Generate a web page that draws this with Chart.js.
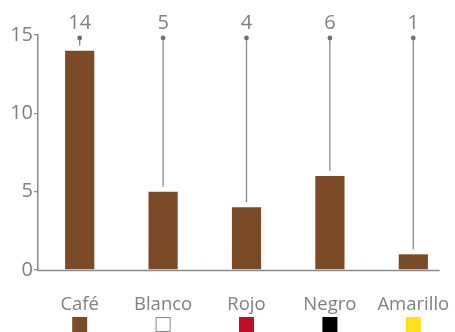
<!DOCTYPE html>
<html>
<head>
<meta charset="utf-8">
<script src="https://cdn.jsdelivr.net/npm/chart.js@4.4.1/dist/chart.umd.min.js"></script>
<style>
  html, body { margin: 0; padding: 0; background: #ffffff; }
  #wrap { width: 455px; height: 332px; position: relative; }
</style>
</head>
<body>
<div id="wrap"><canvas id="c" width="455" height="332"></canvas></div>
<script>
const categories = ['Café', 'Blanco', 'Rojo', 'Negro', 'Amarillo'];
const values = [14, 5, 4, 6, 1];
const swatchColors = ['#7b4b27', '#ffffff', '#c00d2a', '#000000', '#ffe01a'];
const yTicks = [0, 5, 10, 15];

const TEXT = '#808080';
const LINE = '#8a8a8a';
const FONT = "'Open Sans', 'Noto Sans', sans-serif";

const decorPlugin = {
  id: 'decor',
  afterDatasetsDraw(chart) {
    const ctx = chart.ctx;
    const area = chart.chartArea;
    const meta = chart.getDatasetMeta(0);
    const xs = chart.scales.x;
    ctx.save();
    // baseline
    const last = meta.data[meta.data.length - 1];
    ctx.strokeStyle = LINE;
    ctx.lineWidth = 1.5;
    ctx.beginPath();
    ctx.moveTo(area.left - 1, area.bottom + 0.5);
    ctx.lineTo(last.x + last.width * 0.9, area.bottom + 0.5);
    ctx.stroke();
    // leader lines, dots and value labels
    meta.data.forEach((bar, i) => {
      const topY = area.top + 3;
      ctx.strokeStyle = LINE;
      ctx.lineWidth = 1.3;
      ctx.beginPath();
      ctx.moveTo(bar.x, topY);
      ctx.lineTo(bar.x, bar.y - 5);
      ctx.stroke();
      ctx.fillStyle = '#707070';
      ctx.beginPath();
      ctx.arc(bar.x, topY, 2.4, 0, Math.PI * 2);
      ctx.fill();
      ctx.fillStyle = TEXT;
      ctx.font = '20px ' + FONT;
      ctx.textAlign = 'center';
      ctx.textBaseline = 'middle';
      ctx.fillText(String(values[i]), bar.x, area.top - 12);
    });
    // legend swatches under category labels
    categories.forEach((c, i) => {
      const cx = xs.getPixelForTick(i);
      const s = 15;
      ctx.fillStyle = swatchColors[i];
      ctx.fillRect(cx - s / 2, 317, s, s);
      if (swatchColors[i] === '#ffffff') {
        ctx.strokeStyle = '#888888';
        ctx.lineWidth = 1;
        ctx.strokeRect(cx - s / 2 + 0.5, 317.5, s - 1, s - 1);
      }
    });
    ctx.restore();
  }
};

new Chart(document.getElementById('c'), {
  type: 'bar',
  data: {
    labels: categories,
    datasets: [{
      data: values,
      backgroundColor: '#7b4b27',
      barPercentage: 0.35,
      categoryPercentage: 1.0
    }]
  },
  options: {
    responsive: false,
    animation: false,
    layout: { padding: { top: 35, right: 0, left: 0, bottom: 0 }, autoPadding: false },
    plugins: { legend: { display: false }, tooltip: { enabled: false } },
    scales: {
      x: {
        offset: true,
        grid: { display: false, drawTicks: false },
        border: { display: false },
        ticks: {
          color: TEXT,
          font: { family: FONT, size: 18.5 },
          padding: 24,
          maxRotation: 0,
          autoSkip: false
        },
        afterFit(scale) { scale.height = 62; scale.paddingLeft = 0; scale.paddingRight = 0; }
      },
      y: {
        min: 0,
        max: 15,
        afterBuildTicks(scale) { scale.ticks = yTicks.map(v => ({ value: v })); },
        grid: { drawOnChartArea: false, drawTicks: true, tickLength: 4, color: LINE, lineWidth: 1.3 },
        border: { display: true, color: LINE, width: 1.5 },
        ticks: {
          color: TEXT,
          font: { family: FONT, size: 20 },
          padding: 1
        },
        afterFit(scale) { scale.width = 38; scale.paddingTop = 0; scale.paddingBottom = 0; }
      }
    }
  },
  plugins: [decorPlugin]
});
</script>
</body>
</html>
